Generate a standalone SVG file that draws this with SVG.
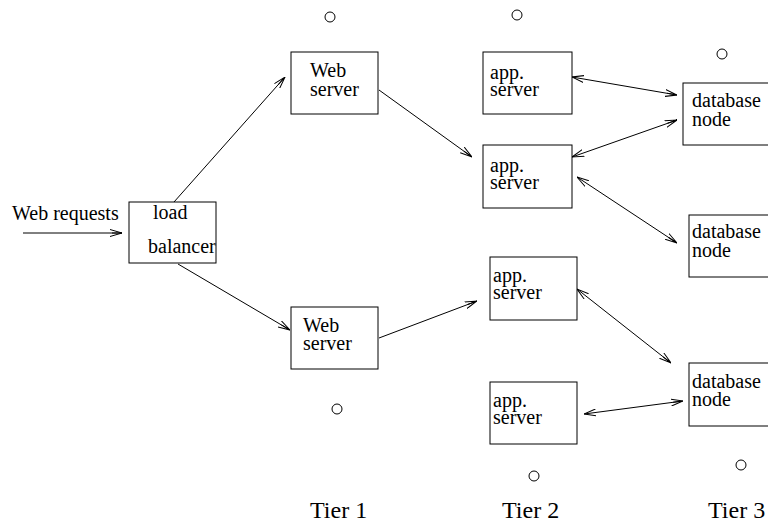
<svg xmlns="http://www.w3.org/2000/svg" width="768" height="523" viewBox="0 0 768 523">
<style>
rect{fill:#fff;stroke:#000;stroke-width:1}
text{font-family:"Liberation Serif","Times New Roman",serif;font-size:20px;fill:#000}
text.t{font-size:24px}
.c{fill:none;stroke:#000;stroke-width:1}
line{stroke:#000;stroke-width:1}
</style>
<defs>
<marker id="ae" viewBox="0 0 12 8" refX="12" refY="4" markerWidth="12" markerHeight="8" markerUnits="userSpaceOnUse" orient="auto">
<path d="M0,0.5 L12,4 L0,7.5 M2,4 L12,4" fill="none" stroke="#000" stroke-width="1"/>
</marker>
<marker id="as" viewBox="0 0 12 8" refX="0" refY="4" markerWidth="12" markerHeight="8" markerUnits="userSpaceOnUse" orient="auto">
<path d="M12,0.5 L0,4 L12,7.5" fill="none" stroke="#000" stroke-width="1"/>
</marker>
</defs>
<rect width="768" height="523" style="stroke:none"/>
<g id="connectors">
<line x1="23" y1="233" x2="122" y2="233" marker-end="url(#ae)"/>
<line x1="174" y1="202" x2="285" y2="77" marker-end="url(#ae)"/>
<line x1="178" y1="264" x2="290" y2="330" marker-end="url(#ae)"/>
<line x1="379" y1="90" x2="472" y2="157" marker-end="url(#ae)"/>
<line x1="379" y1="338" x2="477" y2="301" marker-end="url(#ae)"/>
<line x1="572" y1="77" x2="677" y2="95" marker-start="url(#as)" marker-end="url(#ae)"/>
<line x1="572" y1="157" x2="677" y2="120" marker-start="url(#as)" marker-end="url(#ae)"/>
<line x1="577" y1="177" x2="677" y2="243" marker-start="url(#as)" marker-end="url(#ae)"/>
<line x1="577" y1="289" x2="671" y2="363" marker-start="url(#as)" marker-end="url(#ae)"/>
<line x1="584" y1="414" x2="683" y2="401" marker-start="url(#as)" marker-end="url(#ae)"/>
</g>
<g id="input"><text x="12" y="220">Web requests</text></g>
<g id="lb"><rect x="129" y="202" width="87" height="61"/><text x="153" y="219">load</text><text x="148" y="253">balancer</text></g>
<g id="ws1"><rect x="291" y="52" width="87" height="62"/><text x="310" y="77">Web</text><text x="310" y="96">server</text></g>
<g id="ws2"><rect x="291" y="307" width="87" height="62"/><text x="303" y="332">Web</text><text x="303" y="350">server</text></g>
<g id="as1"><rect x="483" y="52" width="89" height="62"/><text x="490" y="79">app.</text><text x="490" y="96">server</text></g>
<g id="as2"><rect x="483" y="145" width="89" height="63"/><text x="490" y="172">app.</text><text x="490" y="189">server</text></g>
<g id="as3"><rect x="490" y="257" width="87" height="63"/><text x="493" y="282">app.</text><text x="493" y="299">server</text></g>
<g id="as4"><rect x="490" y="382" width="87" height="62"/><text x="493" y="407">app.</text><text x="493" y="424">server</text></g>
<g id="db1"><rect x="683" y="83" width="90" height="62"/><text x="692" y="107">database</text><text x="692" y="126">node</text></g>
<g id="db2"><rect x="689" y="215" width="90" height="62"/><text x="692" y="238">database</text><text x="692" y="257">node</text></g>
<g id="db3"><rect x="689" y="363" width="90" height="63"/><text x="692" y="388">database</text><text x="692" y="406">node</text></g>
<g id="dots">
<circle class="c" cx="330" cy="17" r="5"/>
<circle class="c" cx="517" cy="15" r="5"/>
<circle class="c" cx="722" cy="54" r="5"/>
<circle class="c" cx="337" cy="409" r="5"/>
<circle class="c" cx="534" cy="476" r="5"/>
<circle class="c" cx="741" cy="465" r="5"/>
</g>
<g id="tiers">
<text class="t" x="310" y="518">Tier 1</text>
<text class="t" x="502" y="518">Tier 2</text>
<text class="t" x="708" y="518">Tier 3</text>
</g>
</svg>
